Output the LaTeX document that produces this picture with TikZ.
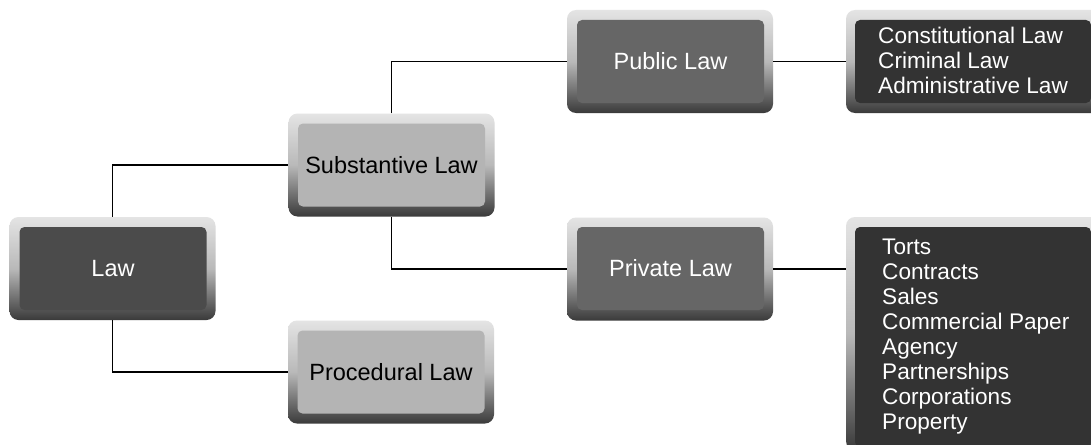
\documentclass[tikz,border=0pt]{standalone}
\usepackage{fontspec}
\setmainfont{Liberation Sans}
\definecolor{frametop}{HTML}{E4E4E4}
\definecolor{framebot}{HTML}{3A3A3A}
\definecolor{darkfill}{HTML}{4B4B4B}
\definecolor{midfill}{HTML}{666666}
\definecolor{lightfill}{HTML}{B4B4B4}
\definecolor{blackfill}{HTML}{333333}
\begin{document}
\begin{tikzpicture}[x=1pt,y=-1pt,
  frame/.style={rectangle, rounded corners=9pt, top color=frametop, bottom color=framebot, middle color=gray!55, draw=none, inner sep=0pt},
  stdframe/.style={frame, minimum width=206pt, minimum height=103pt},
  inner/.style={rectangle, rounded corners=5pt, draw=none, inner sep=0pt, minimum width=187pt, minimum height=83pt, font=\fontsize{23.5}{26}\selectfont},
  darkbox/.style={inner, fill=darkfill, text=white},
  midbox/.style={inner, fill=midfill, text=white},
  lightbox/.style={inner, fill=lightfill, text=black},
  listbox/.style={rectangle, rounded corners=5pt, fill=blackfill, draw=none, inner sep=0pt},
  listtext/.style={anchor=west, align=left, inner sep=0pt, text=white, font=\fontsize{22.6}{25}\selectfont},
  conn/.style={draw=black, line width=1.4pt}
]
\clip (0,0) rectangle (1091,444);
\fill[white] (0,0) rectangle (1091,444);

% Law
\node[stdframe] (law) at (112.5,268.5) {};
\node[darkbox] (lawi) at (113,268.5) {Law};
% Substantive
\node[stdframe] (subst) at (391.5,165) {};
\node[lightbox] (substi) at (391.5,165) {Substantive Law};
% Procedural
\node[stdframe] (proc) at (391,372) {};
\node[lightbox] (proci) at (391,372) {Procedural Law};
% Public
\node[stdframe] (public) at (670,61.5) {};
\node[midbox] (publici) at (670.5,61.5) {Public Law};
% Private
\node[stdframe] (private) at (670,269) {};
\node[midbox] (privatei) at (670.5,268.5) {Private Law};
% Public list
\node[frame, minimum width=254pt, minimum height=103pt] (const) at (973,61.5) {};
\node[listbox, minimum width=236pt, minimum height=83pt] (consti) at (973,61.5) {};
\node[listtext] (constt) at (878,60) {Constitutional Law\\Criminal Law\\Administrative Law};
% Private list
\node[frame, minimum width=254pt, minimum height=233pt] (torts) at (973,333.5) {};
\node[listbox, minimum width=236pt, minimum height=220pt] (tortsi) at (973,337) {};
\node[listtext] (tortst) at (882,336.6) {Torts\\Contracts\\Sales\\Commercial Paper\\Agency\\Partnerships\\Corporations\\Property};
\coordinate (tortsin) at (torts.west |- private.east);

% connectors
\draw[conn] (law.north) |- (subst.west);
\draw[conn] (law.south) |- (proc.west);
\draw[conn] (subst.north) |- (public.west);
\draw[conn] (subst.south) |- (private.west);
\draw[conn] (public.east) -- (const.west |- public.east);
\draw[conn] (private.east) -- (tortsin);
\end{tikzpicture}
\end{document}
